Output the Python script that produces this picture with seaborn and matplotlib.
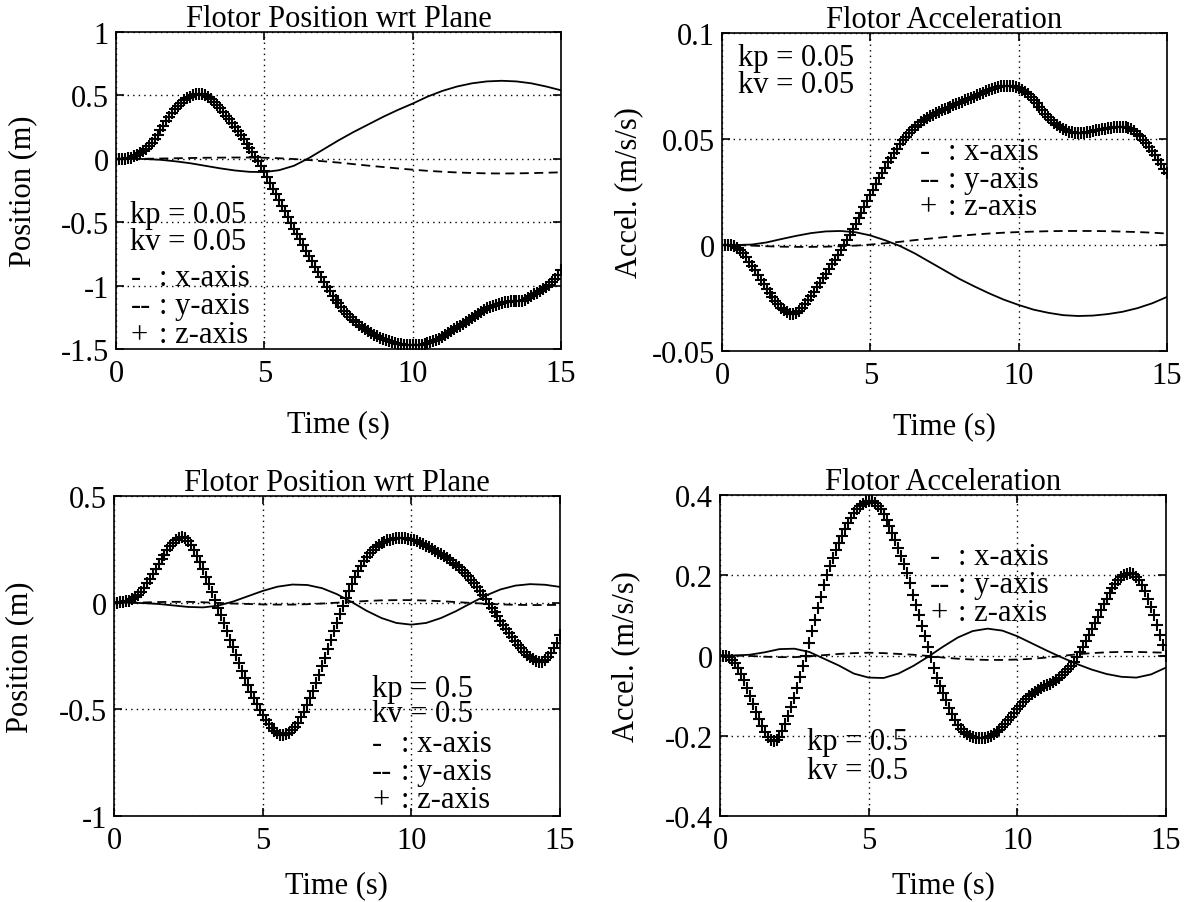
import numpy as np
import matplotlib
matplotlib.use('Agg')
import matplotlib.pyplot as plt
import seaborn as sns

###############################################################
# sample times (z-axis sampled every 0.1 s, x/y read every 0.5 s)
t_z = np.round(np.arange(151) * 0.1, 1)
t_xy = np.arange(31) * 0.5

# kp = kv = 0.05 : flotor position (m)
pos1_x = [0, 0, -0.002, -0.008, -0.02, -0.035, -0.055, -0.075, -0.092, -0.103,
          -0.105, -0.09, -0.055, 0.005, 0.075, 0.145, 0.21, 0.27, 0.33, 0.385,
          0.435, 0.49, 0.535, 0.57, 0.595, 0.61, 0.615, 0.61, 0.595, 0.57, 0.54]
pos1_y = [0, 0, 0, 0.002, 0.004, 0.006, 0.008, 0.009, 0.01, 0.01,
          0.008, 0.004, -0.002, -0.01, -0.02, -0.03, -0.042, -0.054, -0.065, -0.076,
          -0.086, -0.095, -0.102, -0.108, -0.112, -0.115, -0.116, -0.115, -0.113, -0.11, -0.107]
pos1_z = [0, 0, 0, 0.002, 0.005, 0.01, 0.018, 0.03, 0.045, 0.06,
          0.08, 0.10, 0.125, 0.155, 0.19, 0.225, 0.26, 0.295, 0.33, 0.36,
          0.39, 0.415, 0.44, 0.46, 0.477, 0.49, 0.50, 0.507, 0.51, 0.508,
          0.50, 0.488, 0.47, 0.45, 0.425, 0.40, 0.37, 0.34, 0.31, 0.28,
          0.25, 0.22, 0.19, 0.155, 0.12, 0.085, 0.05, 0.015, -0.02, -0.06,
          -0.10, -0.145, -0.19, -0.235, -0.28, -0.325, -0.37, -0.415, -0.46, -0.505,
          -0.55, -0.59, -0.635, -0.68, -0.725, -0.765, -0.81, -0.85, -0.89, -0.93,
          -0.97, -1.01, -1.045, -1.08, -1.11, -1.14, -1.17, -1.2, -1.225, -1.25,
          -1.27, -1.29, -1.31, -1.33, -1.345, -1.36, -1.375, -1.39, -1.40, -1.41,
          -1.42, -1.43, -1.44, -1.447, -1.453, -1.458, -1.462, -1.465, -1.468, -1.47,
          -1.47, -1.47, -1.468, -1.465, -1.46, -1.455, -1.448, -1.44, -1.43, -1.418,
          -1.405, -1.39, -1.375, -1.36, -1.345, -1.33, -1.315, -1.30, -1.285, -1.27,
          -1.255, -1.24, -1.225, -1.21, -1.195, -1.18, -1.17, -1.16, -1.15, -1.142,
          -1.135, -1.13, -1.127, -1.125, -1.125, -1.125, -1.124, -1.12, -1.113, -1.10,
          -1.085, -1.07, -1.055, -1.04, -1.025, -1.01, -0.995, -0.975, -0.95, -0.92, -0.88]

# kp = kv = 0.05 : flotor acceleration (m/s/s)
acc1_x = [0, 0, 0.0002, 0.0012, 0.0028, 0.0043, 0.0056, 0.0064, 0.0066, 0.006,
          0.0045, 0.0022, -0.0005, -0.004, -0.008, -0.012, -0.016, -0.0195, -0.0228, -0.0258,
          -0.0283, -0.0305, -0.032, -0.0331, -0.0335, -0.0333, -0.0326, -0.0315, -0.0298, -0.0275, -0.0245]
acc1_y = [0, 0, -0.0003, -0.0006, -0.0008, -0.0009, -0.0009, -0.0008, -0.0006, -0.0003,
          0.0002, 0.0008, 0.0015, 0.0023, 0.003, 0.0037, 0.0043, 0.0049, 0.0054, 0.0058,
          0.0061, 0.0063, 0.0065, 0.0066, 0.0066, 0.0066, 0.0065, 0.0063, 0.0061, 0.0058, 0.0054]
acc1_z = [0, 0, 0, 0, -0.0005, -0.0012, -0.0025, -0.004, -0.0058, -0.0078,
          -0.0098, -0.012, -0.0142, -0.0164, -0.0186, -0.0206, -0.0226, -0.0245, -0.0265, -0.028,
          -0.0295, -0.0308, -0.0318, -0.0325, -0.0325, -0.032, -0.031, -0.0295, -0.0278, -0.026,
          -0.024, -0.022, -0.02, -0.018, -0.0158, -0.0136, -0.0114, -0.0092, -0.007, -0.0048,
          -0.0025, -0.0002, 0.0022, 0.0047, 0.0073, 0.0099, 0.0126, 0.0153, 0.018, 0.0207,
          0.0234, 0.0261, 0.0288, 0.0314, 0.034, 0.0365, 0.0389, 0.0412, 0.0434, 0.0455,
          0.0475, 0.0494, 0.0511, 0.0527, 0.0542, 0.0556, 0.0568, 0.0579, 0.0589, 0.0598,
          0.0606, 0.0614, 0.0621, 0.0628, 0.0635, 0.0641, 0.0647, 0.0653, 0.0659, 0.0665,
          0.067, 0.0676, 0.0682, 0.0688, 0.0694, 0.07, 0.0706, 0.0712, 0.0718, 0.0724,
          0.073, 0.0735, 0.074, 0.0745, 0.0748, 0.075, 0.0752, 0.0752, 0.075, 0.0746,
          0.074, 0.0732, 0.0722, 0.071, 0.0697, 0.0683, 0.0668, 0.0652, 0.0636, 0.062,
          0.0605, 0.059, 0.0577, 0.0565, 0.0555, 0.0547, 0.054, 0.0535, 0.0531, 0.0529,
          0.0528, 0.0528, 0.0529, 0.0531, 0.0534, 0.0537, 0.054, 0.0543, 0.0546, 0.0549,
          0.0551, 0.0553, 0.0555, 0.0556, 0.0557, 0.0557, 0.0555, 0.0551, 0.0545, 0.0536,
          0.0525, 0.0512, 0.0497, 0.048, 0.0462, 0.0443, 0.0423, 0.0402, 0.0381, 0.036, 0.0338]

# kp = kv = 0.5 : flotor position (m)
pos2_x = [0, 0, -0.002, -0.006, -0.013, -0.02, -0.022, -0.014, 0.005, 0.03,
          0.055, 0.075, 0.085, 0.083, 0.068, 0.04, 0.003, -0.038, -0.072, -0.095,
          -0.103, -0.095, -0.072, -0.04, -0.003, 0.033, 0.062, 0.08, 0.087, 0.084, 0.074]
pos2_y = [0, 0, 0.001, 0.003, 0.004, 0.004, 0.002, -0.001, -0.004, -0.006,
          -0.008, -0.009, -0.009, -0.007, -0.004, 0.0, 0.004, 0.008, 0.011, 0.012,
          0.012, 0.01, 0.007, 0.003, -0.001, -0.005, -0.008, -0.01, -0.011, -0.011, -0.01]
pos2_z = [0, 0, 0.001, 0.003, 0.006, 0.01, 0.016, 0.025, 0.037, 0.052,
          0.07, 0.09, 0.112, 0.135, 0.158, 0.18, 0.203, 0.225, 0.246, 0.265,
          0.281, 0.294, 0.303, 0.306, 0.302, 0.29, 0.272, 0.248, 0.22, 0.19,
          0.157, 0.122, 0.086, 0.05, 0.013, -0.024, -0.06, -0.097, -0.135, -0.173,
          -0.21, -0.246, -0.282, -0.318, -0.352, -0.385, -0.417, -0.447, -0.476, -0.503,
          -0.528, -0.55, -0.57, -0.587, -0.601, -0.611, -0.618, -0.62, -0.617, -0.61,
          -0.598, -0.582, -0.562, -0.538, -0.511, -0.481, -0.448, -0.413, -0.376, -0.338,
          -0.298, -0.258, -0.217, -0.176, -0.135, -0.095, -0.055, -0.017, 0.02, 0.055,
          0.088, 0.119, 0.147, 0.173, 0.196, 0.216, 0.233, 0.248, 0.26, 0.27,
          0.279, 0.286, 0.292, 0.296, 0.299, 0.301, 0.302, 0.302, 0.301, 0.299,
          0.296, 0.292, 0.287, 0.281, 0.274, 0.267, 0.259, 0.251, 0.243, 0.235,
          0.226, 0.217, 0.208, 0.198, 0.188, 0.177, 0.165, 0.152, 0.138, 0.123,
          0.107, 0.09, 0.072, 0.053, 0.034, 0.015, -0.004, -0.024, -0.044, -0.064,
          -0.084, -0.104, -0.124, -0.144, -0.163, -0.181, -0.198, -0.214, -0.229, -0.243,
          -0.255, -0.266, -0.274, -0.278, -0.276, -0.268, -0.254, -0.236, -0.214, -0.19, -0.15]

# kp = kv = 0.5 : flotor acceleration (m/s/s)
acc2_x = [0, 0, 0.002, 0.008, 0.016, 0.017, 0.009, -0.008, -0.025, -0.045,
          -0.055, -0.056, -0.045, -0.026, -0.003, 0.022, 0.045, 0.061, 0.067, 0.062,
          0.048, 0.03, 0.012, -0.005, -0.021, -0.035, -0.046, -0.053, -0.055, -0.047, -0.03]
acc2_y = [0, 0, -0.001, -0.003, -0.004, -0.004, -0.002, 0.001, 0.004, 0.006,
          0.007, 0.006, 0.004, 0.002, -0.001, -0.005, -0.008, -0.01, -0.011, -0.011,
          -0.01, -0.008, -0.005, -0.001, 0.003, 0.006, 0.008, 0.009, 0.009, 0.008, 0.007]
acc2_z = [0, 0, -0.001, -0.004, -0.01, -0.018, -0.03, -0.045, -0.062, -0.08,
          -0.1, -0.12, -0.14, -0.158, -0.175, -0.19, -0.202, -0.21, -0.213, -0.21,
          -0.202, -0.188, -0.17, -0.15, -0.128, -0.105, -0.08, -0.054, -0.027, 0.0,
          0.03, 0.06, 0.089, 0.118, 0.147, 0.175, 0.2, 0.222, 0.243, 0.262,
          0.28, 0.298, 0.315, 0.33, 0.343, 0.354, 0.364, 0.372, 0.378, 0.383,
          0.386, 0.385, 0.38, 0.373, 0.364, 0.352, 0.338, 0.322, 0.305, 0.287,
          0.268, 0.249, 0.228, 0.206, 0.18, 0.152, 0.126, 0.1, 0.074, 0.048,
          0.022, -0.004, -0.03, -0.055, -0.076, -0.094, -0.112, -0.13, -0.146, -0.16,
          -0.172, -0.182, -0.19, -0.196, -0.2, -0.203, -0.205, -0.206, -0.206, -0.205,
          -0.203, -0.2, -0.196, -0.191, -0.185, -0.178, -0.17, -0.161, -0.152, -0.143,
          -0.134, -0.125, -0.117, -0.109, -0.102, -0.096, -0.09, -0.085, -0.081, -0.077,
          -0.074, -0.07, -0.065, -0.06, -0.055, -0.049, -0.042, -0.034, -0.025, -0.015,
          -0.004, 0.008, 0.021, 0.035, 0.05, 0.065, 0.081, 0.097, 0.113, 0.128,
          0.142, 0.156, 0.168, 0.179, 0.189, 0.196, 0.201, 0.204, 0.205, 0.202,
          0.196, 0.187, 0.175, 0.16, 0.142, 0.122, 0.1, 0.076, 0.051, 0.025, -0.001]

# axis ticks and labels
x_ticks = [0, 5, 10, 15]
pos1_ticks = [-1.5, -1, -0.5, 0, 0.5, 1]
pos1_labels = ['-1.5', '-1', '-0.5', '0', '0.5', '1']
acc1_ticks = [-0.05, 0, 0.05, 0.1]
acc1_labels = ['-0.05', '0', '0.05', '0.1']
pos2_ticks = [-1, -0.5, 0, 0.5]
pos2_labels = ['-1', '-0.5', '0', '0.5']
acc2_ticks = [-0.4, -0.2, 0, 0.2, 0.4]
acc2_labels = ['-0.4', '-0.2', '0', '0.2', '0.4']

gains_lo = 'kp = 0.05\nkv = 0.05'
gains_hi = 'kp = 0.5\nkv = 0.5'
key_symbols = '-\n--\n+'
key_names = ': x-axis\n: y-axis\n: z-axis'

###############################################################
sns.set_style('ticks')
plt.rcParams['font.family'] = ['Liberation Serif', 'DejaVu Serif']
plt.rcParams['axes.unicode_minus'] = False
plt.rcParams['axes.linewidth'] = 1.2
for k in ['text.color', 'axes.labelcolor', 'xtick.color', 'ytick.color', 'axes.edgecolor']:
    plt.rcParams[k] = 'black'

FS = 22
# baseline-to-baseline distance of one linespacing unit, in pixels (measured)
LINE_PX = 27.5

fig = plt.figure(figsize=(11.87, 9.03), dpi=100)


def draw_panel(rect, xv, yv, zv, ticks, labels, ylab, title, xlab_y,
               gains, gains_pos, key_pos):
    ax = fig.add_axes(rect)
    sns.lineplot(x=t_xy, y=xv, color='k', linewidth=1.3, ax=ax)
    sns.lineplot(x=t_xy, y=yv, color='k', linewidth=1.3, linestyle=(0, (5, 3)), ax=ax)
    sns.scatterplot(x=t_z, y=zv, marker='+', color='k', s=64, linewidth=1.5,
                    ax=ax, legend=False, zorder=3)
    ax.set_xlim(0, 15)
    ax.set_ylim(ticks[0], ticks[-1])
    ax.set_xticks(x_ticks, [str(v) for v in x_ticks])
    ax.set_yticks(ticks, labels)
    ax.set_axisbelow(True)
    ax.grid(True, color='k', linestyle=(0, (1, 3)), linewidth=1.0)
    ax.tick_params(direction='in', length=6, width=1.2, top=True, right=True, labelsize=FS)
    ax.tick_params(axis='x', pad=7)
    ax.tick_params(axis='y', pad=5)
    ax.set_title(title, fontsize=FS, pad=4)
    ax.set_xlabel('Time (s)', fontsize=FS)
    ax.set_ylabel(ylab, fontsize=FS)
    ax.xaxis.set_label_coords(0.5, xlab_y)
    ax.yaxis.set_label_coords(-0.178, 0.5)

    gx, gy, gpx = gains_pos
    ax.text(gx, gy, gains, fontsize=FS, va='center', ha='left', linespacing=gpx / LINE_PX)
    kx, ky, kpx = key_pos
    ax.text(kx, ky, key_symbols, fontsize=FS, va='center', ha='left', linespacing=kpx / LINE_PX)
    ax.text(kx + 0.95, ky, key_names, fontsize=FS, va='center', ha='left', linespacing=kpx / LINE_PX)
    return ax


draw_panel([0.0977, 0.6124, 0.3749, 0.3511], pos1_x, pos1_y, pos1_z, pos1_ticks, pos1_labels,
           'Position (m)', 'Flotor Position wrt Plane', -0.19,
           gains_lo, (0.48, -0.545, 25.7), (0.5, -1.16, 27.3))
draw_panel([0.6083, 0.6102, 0.3749, 0.3522], acc1_x, acc1_y, acc1_z, acc1_ticks, acc1_labels,
           'Accel. (m/s/s)', 'Flotor Acceleration', -0.19,
           gains_lo, (0.54, 0.0819, 24.9), (6.66, 0.0311, 25.9))
draw_panel([0.0960, 0.0952, 0.3757, 0.3544], pos2_x, pos2_y, pos2_z, pos2_ticks, pos2_labels,
           'Position (m)', 'Flotor Position wrt Plane', -0.168,
           gains_hi, (8.69, -0.46, 22.5), (8.69, -0.792, 26.2))
draw_panel([0.6066, 0.0952, 0.3757, 0.3555], acc2_x, acc2_y, acc2_z, acc2_ticks, acc2_labels,
           'Accel. (m/s/s)', 'Flotor Acceleration', -0.168,
           gains_hi, (2.93, -0.2505, 28.5), (7.07, 0.177, 26.5))

plt.savefig('out.png', dpi=100)
